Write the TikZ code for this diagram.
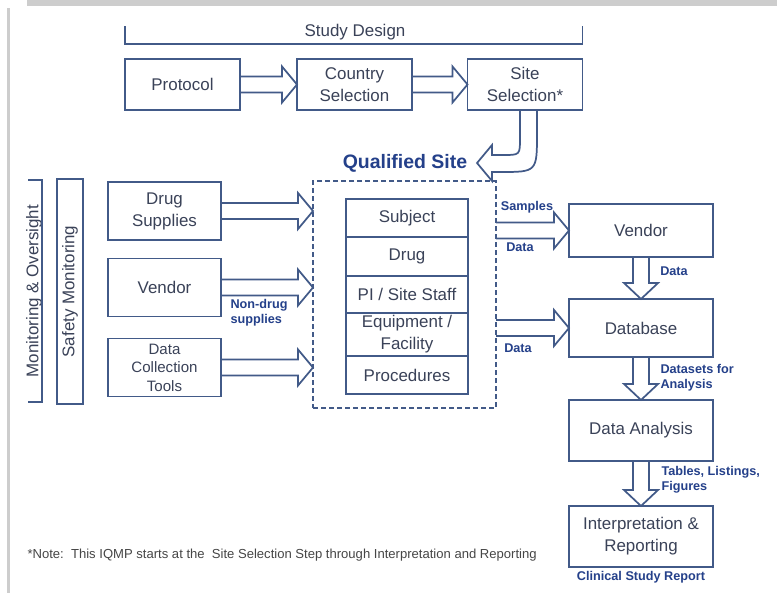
\documentclass[tikz,border=0pt]{standalone}
\usepackage{fontspec}
\setmainfont{Liberation Sans}
\usetikzlibrary{calc}

\definecolor{boxline}{RGB}{66,90,136}
\definecolor{boxtext}{RGB}{58,66,88}
\definecolor{lbltext}{RGB}{36,64,138}
\definecolor{notetext}{RGB}{70,70,70}
\definecolor{frame}{RGB}{205,205,205}

\tikzset{every picture/.style={line width=0.75pt}}
\tikzset{
  box/.style={draw=boxline, line width=1.4pt, text=boxtext, align=center, inner sep=2pt, outer sep=0pt, font=\fontsize{12.7}{16.5}\selectfont},
  cell/.style={box, minimum width=91.5pt},
  blockarr/.style={draw=boxline, line width=1.3pt, line join=miter},
  lbl/.style={text=lbltext, font=\fontsize{9.5}{11.5}\selectfont\bfseries, inner sep=0pt, align=left},
}

% hollow block arrows, left to right and top to bottom
\newcommand{\rightblock}[2]{%
  \draw[blockarr] ($#1+(0,-8)$) -- ($#2+(-15,-8)$) -- ($#2+(-15,-18)$) -- #2 -- ($#2+(-15,18)$) -- ($#2+(-15,8)$) -- ($#1+(0,8)$);}
\newcommand{\downblock}[2]{%
  \draw[blockarr] ($#1+(-8,0)$) -- ($#2+(-8,-16)$) -- ($#2+(-17,-16)$) -- #2 -- ($#2+(17,-16)$) -- ($#2+(8,-16)$) -- ($#1+(8,0)$);}

\begin{document}
\begin{tikzpicture}[x=0.75pt,y=0.75pt,yscale=-1,xscale=1]
\useasboundingbox (0,0) rectangle (777,593);
\fill[white] (0,0) rectangle (777,593);
% screenshot frame
\fill[frame] (27,0) rectangle (777,6);
\fill[frame] (7,8) rectangle (10,593);

%Shape: study design row
\node[box, minimum width=86.25pt, minimum height=38.25pt] (prot) at (182.5,84.5) {Protocol};
\node[box, minimum width=86.25pt, minimum height=38.25pt] (ctry) at (354.5,84.5) {Country\\Selection};
\node[box, minimum width=86.25pt, minimum height=38.25pt] (site) at (525,84.5) {Site\\Selection*};
% Text Node
\node[text=boxtext, font=\fontsize{12.7}{16.5}\selectfont] (sd) at (355,32) {Study Design};
\draw[blockarr, line width=1.2pt] ($(prot.north west)+(0,-33)$) -- ($(prot.north west)+(0,-15)$) -- ($(site.north east)+(0,-15)$) -- ($(site.north east)+(0,-33)$);

\rightblock{(prot.east)}{(ctry.west)}
\rightblock{(ctry.east)}{(site.west)}

%Shape: monitoring
\node[rotate=90, text=boxtext, font=\fontsize{12.7}{16.5}\selectfont] (mon) at (34,291) {Monitoring \& Oversight};
\draw[blockarr, line width=1.2pt] (28,180) -- (42,180) -- (42,402) -- (28,402);
\node[box, rotate=90, minimum width=168.75pt, minimum height=19.5pt] (safety) at (70,291.5) {Safety Monitoring};

%Shape: inputs
\node[box, minimum width=84.75pt, minimum height=43.5pt] (drugs) at (164.5,211) {Drug\\Supplies};
\node[box, minimum width=84.75pt, minimum height=43.5pt] (vend) at (164.5,287.5) {Vendor};
\node[box, minimum width=84.75pt, minimum height=43.5pt, font=\fontsize{11.3}{13.8}\selectfont] (dct) at (164.5,367.5) {Data\\Collection\\Tools};

%Shape: qualified site
\node[draw=boxline, line width=1.2pt, dash pattern=on 3.75pt off 2.25pt, outer sep=0pt, minimum width=137.25pt, minimum height=170.25pt] (qs) at (404.5,294.5) {};
\node[text=lbltext, font=\fontsize{14.6}{17}\selectfont\bfseries] (qlbl) at (405,163) {Qualified Site};
\node[cell, minimum height=28.5pt, anchor=north] (subj) at (407,199) {Subject};
\node[cell, minimum height=29.25pt, anchor=north] (drug) at (subj.south) {Drug};
\node[cell, minimum height=27.75pt, anchor=north] (staff) at (drug.south) {PI / Site Staff};
\node[cell, minimum height=31.5pt, anchor=north] (equip) at (staff.south) {Equipment /\\Facility};
\node[cell, minimum height=28.5pt, anchor=north] (proc) at (equip.south) {Procedures};

\rightblock{(drugs.east)}{(drugs.east -| qs.west)}
\rightblock{(vend.east)}{(vend.east -| qs.west)}
\rightblock{(dct.east)}{(dct.east -| qs.west)}
\node[lbl, anchor=west] (nondrug) at (230,313) {Non-drug\\supplies};

%Curved arrow: site selection to qualified site
\draw[blockarr] ($(site.south)+(-5,0)$) -- ($(site.south)+(-5,28)$) .. controls ($(site.south)+(-5,45)$) .. ($(site.south)+(-22,45)$) -- ($(site.south)+(-33,45)$) -- ($(site.south)+(-33,35)$) -- ($(site.south)+(-48,53)$) -- ($(site.south)+(-33,71)$) -- ($(site.south)+(-33,62)$) -- ($(site.south)+(-25,62)$) .. controls ($(site.south)+(12,62)$) .. ($(site.south)+(12,23)$) -- ($(site.south)+(12,0)$);

%Shape: data flow
\node[box, minimum width=108pt, minimum height=39.75pt] (vend2) at (641,230.5) {Vendor};
\node[box, minimum width=108pt, minimum height=43.5pt] (db) at (641,328) {Database};
\node[box, minimum width=108pt, minimum height=45.75pt] (da) at (641,430.5) {Data Analysis};
\node[box, minimum width=108pt, minimum height=45.75pt] (ir) at (641,536.5) {Interpretation \&\\Reporting};

\rightblock{(vend2.west -| qs.east)}{(vend2.west)}
\rightblock{(db.west -| qs.east)}{(db.west)}
\downblock{(vend2.south)}{(db.north)}
\downblock{(db.south)}{(da.north)}
\downblock{(da.south)}{(ir.north)}

% Text Node
\node[lbl] (samples) at (527,207) {Samples};
\node[lbl] (data1) at (520,247) {Data};
\node[lbl] (data2) at (518,348) {Data};
\node[lbl] (data3) at (674,271) {Data};
\node[lbl, anchor=west] (dsets) at (660,378) {Datasets for\\Analysis};
\node[lbl, anchor=west] (tlf) at (661,480) {Tables, Listings,\\Figures};
\node[lbl, anchor=north] (csr) at ($(ir.south)+(0,4)$) {Clinical Study Report};
% Text Node
\node[text=notetext, font=\fontsize{9.8}{11}\selectfont, anchor=west, inner sep=0pt] (note) at (27,555) {*Note:\ \ This IQMP starts at the\ \ Site Selection Step through Interpretation and Reporting};

\end{tikzpicture}
\end{document}
